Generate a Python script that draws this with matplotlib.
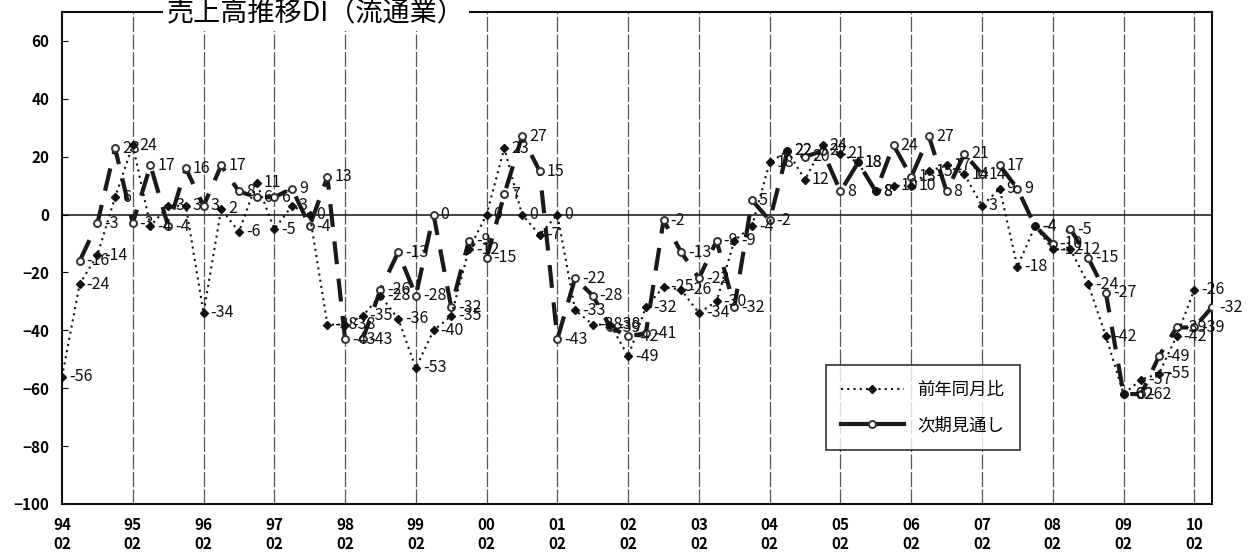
import numpy as np
import matplotlib
matplotlib.use('Agg')
import matplotlib.pyplot as plt
from matplotlib.lines import Line2D

plt.rcParams['font.family'] = ['Noto Sans CJK JP', 'DejaVu Sans']

# 四半期データ（02, 05, 08, 11月）
years = ['94', '95', '96', '97', '98', '99', '00', '01', '02',
         '03', '04', '05', '06', '07', '08', '09', '10']

# 前年同月比: 94年02月 〜 10年02月
zennen = [-56, -24, -14, 6, 24, -4, 3, 3,
          -34, 2, -6, 11, -5, 3, 0, -38,
          -38, -35, -28, -36, -53, -40, -35, -12,
          0, 23, 0, -7, 0, -33, -38, -38,
          -49, -32, -25, -26, -34, -30, -9, -4,
          18, 22, 12, 24, 21, 18, 8, 10,
          10, 15, 17, 14, 3, 9, -18, -4,
          -12, -12, -24, -42, -62, -57, -55, -42,
          -26]

# 次期見通し: 94年05月 〜 10年05月
jiki = [-16, -3, 23, -3, 17, -4, 16,
        3, 17, 8, 6, 6, 9, -4, 13,
        -43, -43, -26, -13, -28, 0, -32, -9,
        -15, 7, 27, 15, -43, -22, -28, -39,
        -42, -41, -2, -13, -22, -9, -32, 5,
        -2, 22, 20, 22, 8, 18, 8, 24,
        13, 27, 8, 21, 14, 17, 9, -4,
        -10, -5, -15, -27, -62, -62, -49, -39,
        -39, -32]

x_zen = np.arange(len(zennen))
x_jiki = np.arange(1, len(jiki) + 1)

fig = plt.figure(figsize=(12.51, 5.59), dpi=100)
ax = fig.add_axes([62 / 1251, 1 - 504 / 559, 1150 / 1251, 492 / 559])

ax.set_xlim(0, 65)
ax.set_ylim(-100, 70)

# 年ごとの縦線とゼロライン
year_pos = np.arange(0, len(years) * 4, 4)
for p in year_pos[1:]:
    ax.axvline(p, color='#555555', lw=0.9, ls=(0, (12, 2)), zorder=1)
ax.axhline(0, color='#222222', lw=1.2, zorder=1)

style_jiki = dict(color='#1a1a1a', lw=3.0, ls=(0, (5.5, 3.5)), marker='o', ms=5,
                  mfc='white', mec='#333333', mew=1.4)
style_zen = dict(color='#111111', lw=1.5, ls=(0, (1, 2)), marker='D', ms=4,
                 mfc='#111111', mec='#111111')

ax.plot(x_jiki, jiki, zorder=3, **style_jiki)
ax.plot(x_zen, zennen, zorder=4, **style_zen)

for xs, vals in ((x_zen, zennen), (x_jiki, jiki)):
    for xv, v in zip(xs, vals):
        ax.annotate(str(v), (xv, v), xytext=(5, 0), textcoords='offset points',
                    ha='left', va='center', fontsize=11.5, color='#111111', zorder=5)

ax.set_xticks(year_pos)
ax.set_xticklabels([f'{y}\n02' for y in years], fontsize=11, fontweight='bold',
                   linespacing=1.25)
ax.tick_params(axis='x', length=0, pad=9)
ax.set_yticks(np.arange(-100, 61, 20))
ax.tick_params(axis='y', direction='in', length=4, pad=9, labelsize=11)
for t in ax.get_yticklabels():
    t.set_fontweight('bold')

for s in ax.spines.values():
    s.set_linewidth(1.5)
    s.set_color('#111111')

ax.text(0.221, 0.998, '売上高推移DI（流通業）', transform=ax.transAxes,
        ha='center', va='center', fontsize=19.5, zorder=10, clip_on=False,
        bbox=dict(facecolor='white', edgecolor='none', pad=3))

handles = [Line2D([], [], **style_zen), Line2D([], [], **{**style_jiki, 'ls': '-'})]
leg = ax.legend(handles, ['前年同月比', '次期見通し'], loc='upper left',
                bbox_to_anchor=(0.664, 0.2825), fontsize=12.5, frameon=True,
                fancybox=False, edgecolor='black', handlelength=3.6,
                borderpad=0.9, labelspacing=1.0, numpoints=1, borderaxespad=0)
leg.get_frame().set_linewidth(1.2)

fig.savefig('out.png', dpi=100, facecolor='white')
